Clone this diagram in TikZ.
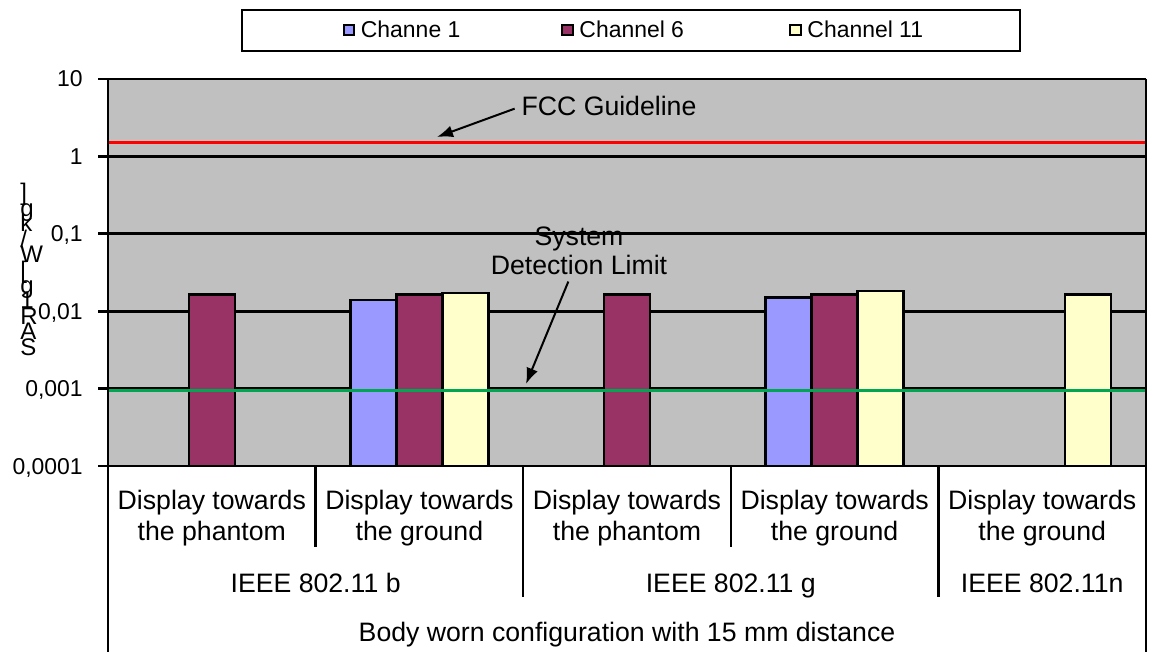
\documentclass[tikz,border=0pt]{standalone}
\usepackage{fontspec}
\setmainfont{Liberation Sans}
\usetikzlibrary{arrows.meta}
\definecolor{plotgray}{HTML}{C0C0C0}
\definecolor{chblue}{HTML}{9999FF}
\definecolor{chpurple}{HTML}{993366}
\definecolor{chyellow}{HTML}{FFFFCC}
\definecolor{limitgreen}{HTML}{00A651}
\begin{document}
\begin{tikzpicture}[x=0.75pt,y=-0.75pt,
	gridline/.style={line width=2.2pt},
	catline/.style={line width=1.9pt},
	sarbar/.style={draw=black,line width=1.8pt},
	pointer/.style={line width=1.5pt,-{Latex[length=12pt,width=9pt]}},
	big/.style={font=\fontsize{20}{23.25}\selectfont,inner sep=0pt},
	small/.style={font=\fontsize{17.2}{20}\selectfont,inner sep=0pt},
	legendkey/.style={draw=black,line width=1.5pt,minimum size=8pt,inner sep=0pt}]
	\useasboundingbox (0,0) rectangle (1152,652);
	% plot area
	\fill[plotgray] (108,79) rectangle (1146,466);
	\foreach \y in {79,156.4,233.8,311.2,388.6}
		\draw[gridline] (108,\y) -- (1146,\y);
	% bars
	\foreach \c/\s/\v/\col in {1/0/0.016/chpurple,2/-1/0.014/chblue,2/0/0.016/chpurple,2/1/0.017/chyellow,3/0/0.016/chpurple,4/-1/0.015/chblue,4/0/0.016/chpurple,4/1/0.018/chyellow,5/1/0.016/chyellow}{
		\pgfmathsetmacro\xm{108+207.6*(\c-0.5)+46*\s}
		\pgfmathsetmacro\ytop{466-77.4*(ln(\v)/ln(10)+4)}
		\draw[sarbar,fill=\col] (\xm-23,466) rectangle (\xm+23,\ytop);
	}
	% guideline and detection limit
	\draw[red,line width=1.8pt] (108,142.5) -- (1146,142.5);
	\draw[limitgreen,line width=2pt] (108,390.7) -- (1146,390.7);
	% axes
	\draw[gridline] (108,79) -- (108,652) (1146,79) -- (1146,652) (98,466) -- (1146,466);
	\foreach \y in {79,156.4,233.8,311.2,388.6,466}
		\draw[gridline] (98,\y) -- (108,\y);
	\foreach \x in {315.6,730.8}
		\draw[catline] (\x,466) -- (\x,547);
	\foreach \x in {523.2,938.4}
		\draw[catline] (\x,466) -- (\x,597);
	% tick labels
	\foreach \y/\lab [count=\i] in {79/10,156.4/1,233.8/{0,1},311.2/{0,01},388.6/{0,001},466/{0,0001}}
		\node[small,anchor=base east] (tick\i) at (83,\y+8) {\lab};
	% y title, one letter above the other
	\foreach \ch [count=\i] in {S,A,R,1,g,\lbrack,W,\slash,k,g,\rbrack}
		\node[font=\fontsize{18}{20}\selectfont,inner sep=0pt,anchor=base west] (sar\i) at (20,355-15.4*\i+15.4) {\ch};
	% categories
	\foreach \c/\txt in {1/the phantom,2/the ground,3/the phantom,4/the ground,5/the ground}
		\node[big,align=center] (cat\c) at ({108+207.6*(\c-0.5)},519) {\strut Display towards\\\txt\strut};
	\node[big,anchor=base] (std b) at (315.6,592.5) {IEEE 802.11 b};
	\node[big,anchor=base] (std g) at (730.8,592.5) {IEEE 802.11 g};
	\node[big,anchor=base] (std n) at (1042.2,592.5) {IEEE 802.11n};
	\node[big,anchor=base] (config) at (627,641.5) {Body worn configuration with 15 mm distance};
	% legend
	\draw[gridline] (242,10) rectangle (1020,51);
	\node[legendkey,fill=chblue] (key1) at (349,30) {};
	\node[legendkey,fill=chpurple] (key6) at (567.5,30) {};
	\node[legendkey,fill=chyellow] (key11) at (795.5,30) {};
	\node[small,anchor=base west] (ch1) at ([xshift=4pt]key1.east |- 0,38) {Channe 1};
	\node[small,anchor=base west] (ch6) at ([xshift=4pt]key6.east |- 0,38) {Channel 6};
	\node[small,anchor=base west] (ch11) at ([xshift=4pt]key11.east |- 0,38) {Channel 11};
	% annotations
	\node[big] (fcc) at (609,106) {FCC Guideline};
	\coordinate (fcctip) at (437,137);
	\draw[pointer] ([xshift=-5pt,yshift=-2pt]fcc.west) -- (fcctip);
	\node[big,align=center] (sdl) at (579,250.7) {System\\[-1.5pt]Detection Limit};
	\coordinate (sdltip) at (526,384);
	\draw[pointer] ([xshift=-8pt,yshift=-5pt]sdl.south) -- (sdltip);
\end{tikzpicture}
\end{document}
